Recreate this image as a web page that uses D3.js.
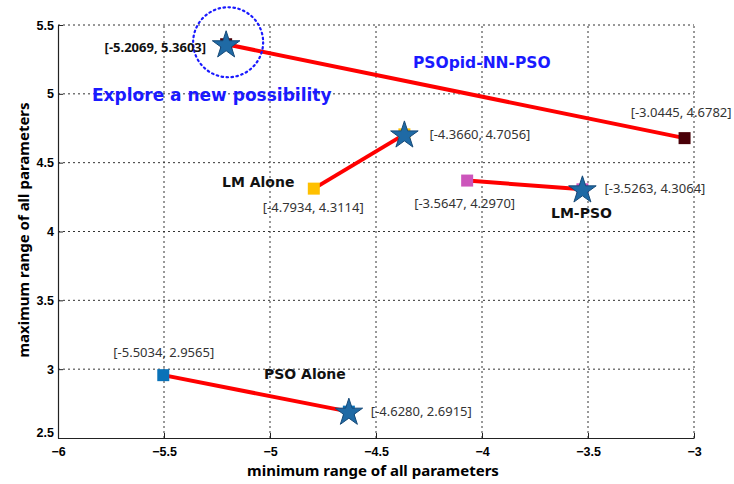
<!DOCTYPE html>
<html><head><meta charset="utf-8">
<script src="https://cdn.jsdelivr.net/npm/d3@7"></script>
<style>body{margin:0;background:#fff}svg{display:block}</style>
</head><body><svg id="c" width="734" height="484"></svg>
<script>
const xTicks = [-6, -5.5, -5, -4.5, -4, -3.5, -3];
const yTicks = [2.5, 3, 3.5, 4, 4.5, 5, 5.5];
const seriesNames = ["PSOpid-NN-PSO", "LM Alone", "LM-PSO", "PSO Alone"];
const startX = [-3.0445, -4.7934, -4.07, -5.5034];
const startY = [4.6782, 4.3114, 4.37, 2.9565];
const endX = [-5.2069, -4.3660, -3.5263, -4.6280];
const endY = [5.3603, 4.7056, 4.3064, 2.6915];
const startLabels = ["[-3.0445, 4.6782]", "[-4.7934, 4.3114]", "[-3.5647, 4.2970]", "[-5.5034, 2.9565]"];
const endLabels = ["[-5.2069,  5.3603]", "[-4.3660, 4.7056]", "[-3.5263, 4.3064]", "[-4.6280, 2.6915]"];
const squareColors = ["#4a0008", "#ffc000", "#cc55bb", "#0a72b8"];

const W = 734, H = 484;
const m = {l: 58, r: 40, t: 25, b: 46};
const svg = d3.select("#c");
const x = d3.scaleLinear().domain([-6, -3]).range([m.l, W - m.r]);
const y = d3.scaleLinear().domain([2.5, 5.5]).range([H - m.b, m.t]);

// grid
const g = svg.append("g");
g.selectAll(".gx").data(xTicks.slice(1)).enter().append("line")
  .attr("x1", d => x(d)).attr("x2", d => x(d)).attr("y1", y(2.5)).attr("y2", y(5.5))
  .attr("stroke", "#333").attr("stroke-width", 1).attr("stroke-dasharray", "2,3");
g.selectAll(".gy").data(yTicks.slice(1)).enter().append("line")
  .attr("y1", d => y(d)).attr("y2", d => y(d)).attr("x1", x(-6)).attr("x2", x(-3))
  .attr("stroke", "#333").attr("stroke-width", 1).attr("stroke-dasharray", "2,3");

// axes
const xa = svg.append("g").attr("transform", `translate(0,${y(2.5)})`)
  .call(d3.axisBottom(x).tickValues(xTicks).tickSizeInner(-5).tickSizeOuter(0).tickPadding(9).tickFormat(d3.format("")));
const ya = svg.append("g").attr("transform", `translate(${x(-6)},0)`)
  .call(d3.axisLeft(y).tickValues(yTicks).tickSizeInner(-5).tickSizeOuter(0).tickPadding(4).tickFormat(d3.format("")));
[xa, ya].forEach(a => {
  a.select(".domain").attr("stroke", "#222").attr("stroke-width", 1.2);
  a.selectAll(".tick line").attr("stroke", "#222");
  a.selectAll("text").attr("font-family", "Liberation Sans, Arial, sans-serif")
    .attr("font-weight", "bold").attr("font-size", 12.5).attr("fill", "#000");
});
ya.selectAll(".tick").filter(d => d === 2.5).select("text").attr("dy", "-0.1em");

svg.append("text").attr("x", 373).attr("y", 476).attr("text-anchor", "middle")
  .attr("font-family", "Noto Sans, Open Sans, sans-serif").attr("font-weight", "bold").attr("font-size", 15)
  .text("minimum range of all parameters");
svg.append("text").attr("transform", "translate(29,230) rotate(-90)").attr("text-anchor", "middle")
  .attr("font-family", "Noto Sans, Open Sans, sans-serif").attr("font-weight", "bold").attr("font-size", 15)
  .text("maximum range of all parameters");

// lines
const idx = d3.range(seriesNames.length);
svg.selectAll(".seg").data(idx).enter().append("line")
  .attr("x1", i => x(startX[i])).attr("y1", i => y(startY[i]))
  .attr("x2", i => x(endX[i])).attr("y2", i => y(endY[i]))
  .attr("stroke", "#ff0000").attr("stroke-width", 4);

// squares at both ends
const sq = 12;
idx.forEach(i => {
  [[startX[i], startY[i]], [endX[i], endY[i]]].forEach(p => {
    svg.append("rect").attr("x", x(p[0]) - sq / 2).attr("y", y(p[1]) - sq / 2)
      .attr("width", sq).attr("height", sq).attr("fill", squareColors[i]);
  });
});

// stars
const star = d3.symbol().type(d3.symbolStar).size(235);
svg.selectAll(".star").data(idx).enter().append("path")
  .attr("d", star)
  .attr("transform", i => `translate(${x(endX[i])},${y(endY[i]) + 1})`)
  .attr("fill", "#1f6aa5").attr("stroke", "#174a78").attr("stroke-width", 1);

// dotted circle
svg.append("ellipse").attr("cx", x(endX[0]) + 2).attr("cy", y(endY[0]) - 2).attr("rx", 35).attr("ry", 35)
  .attr("fill", "none").attr("stroke", "#1a1aff").attr("stroke-width", 2.2).attr("stroke-dasharray", "1.5,3.5")
  .attr("stroke-linecap", "round");

// value labels
const lf = "Noto Sans, Open Sans, sans-serif";
const bf = "DejaVu Sans, Verdana, sans-serif";
const lab = (t, xx, yy, anchor, opts = {}) => svg.append("text").attr("x", xx).attr("y", yy)
  .attr("text-anchor", anchor).attr("font-family", opts.family || lf).attr("font-size", opts.size || 13)
  .attr("font-weight", opts.weight || "normal").attr("fill", opts.fill || "#333").text(t);

lab(endLabels[0], x(endX[0]) - 20, y(endY[0]) + 8, "end", {weight: "bold", fill: "#111"});
lab(startLabels[0], x(startX[0]) + 47, y(startY[0]) - 21, "end");
lab(endLabels[1], x(endX[1]) + 25, y(endY[1]) + 5, "start");
lab(startLabels[1], x(startX[1]) - 51, y(startY[1]) + 23, "start");
lab(endLabels[2], x(endX[2]) + 22, y(endY[2]) + 4, "start");
lab(startLabels[2], x(startX[2]) - 53, y(startY[2]) + 27, "start");
lab(startLabels[3], x(startX[3]) - 50, y(startY[3]) - 18, "start");
lab(endLabels[3], x(endX[3]) + 22, y(endY[3]) + 4, "start");

// series names
lab("PSOpid-NN-PSO", 413, 68, "start", {weight: "bold", fill: "#1a1aff", size: 15.5, family: bf});
lab("Explore a new possibility", 92, 101, "start", {weight: "bold", fill: "#1a1aff", size: 17, family: bf});
lab("LM Alone", 222, 187, "start", {weight: "bold", fill: "#111", size: 14, family: bf});
lab("LM-PSO", 551, 218, "start", {weight: "bold", fill: "#111", size: 14, family: bf});
lab("PSO Alone", 264, 379, "start", {weight: "bold", fill: "#111", size: 14, family: bf});
</script></body></html>
